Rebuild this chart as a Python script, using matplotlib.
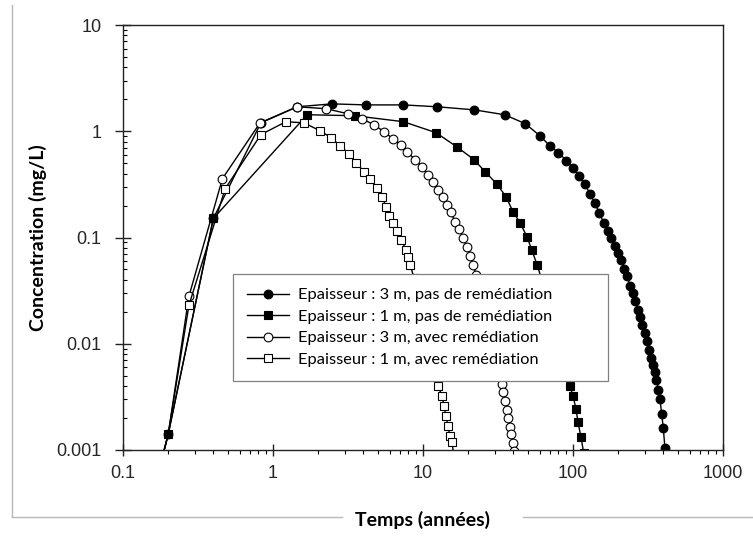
import numpy as np
import matplotlib
matplotlib.use('Agg')
import matplotlib.pyplot as plt
from matplotlib.lines import Line2D

# 3 m, pas de remediation (filled circles)
t_c3 = [0.1, 0.2, 0.4, 0.83, 1.45, 2.47, 4.2, 7.4, 12.4, 22, 35, 48, 60, 70, 80, 90,
        100, 110, 120, 130, 140, 150, 160, 170, 180, 190, 200, 210, 220, 230, 240,
        250, 260, 270, 280, 290, 300, 310, 320, 330, 340, 350, 360, 370, 380, 390,
        400, 410, 420]
c_c3 = [3e-5, 0.0014, 0.151, 1.2, 1.70, 1.81, 1.77, 1.77, 1.70, 1.59, 1.43, 1.18, 0.91,
        0.73, 0.63, 0.53, 0.452, 0.38, 0.316, 0.257, 0.209, 0.170, 0.138, 0.115, 0.098,
        0.083, 0.072, 0.062, 0.051, 0.043, 0.035, 0.030, 0.025, 0.021, 0.018, 0.015,
        0.0126, 0.0105, 0.0087, 0.0074, 0.0063, 0.0054, 0.0046, 0.0037, 0.0030,
        0.0022, 0.0016, 0.00105, 0.00063]

# 1 m, pas de remediation (filled squares)
t_c1 = [0.1, 0.2, 0.4, 1.69, 3.5, 7.4, 12.2, 16.9, 21.9, 25.9, 31, 35.7, 39.8, 44.3,
        49.3, 53.3, 57.5, 62, 67, 72, 77, 82, 87, 91, 95.5, 100, 104.7, 108, 113, 118]
c_c1 = [3e-5, 0.0014, 0.151, 1.43, 1.40, 1.23, 0.97, 0.71, 0.54, 0.417, 0.32, 0.243,
        0.175, 0.138, 0.102, 0.0755, 0.0557, 0.040, 0.028, 0.020, 0.014, 0.010,
        0.0074, 0.0054, 0.00398, 0.00324, 0.00243, 0.00183, 0.00132, 0.00093]

# 3 m, avec remediation (open circles)
t_r3 = [0.1, 0.2, 0.275, 0.46, 0.82, 1.45, 2.26, 3.16, 3.92, 4.71, 5.5, 6.31, 7.13,
        7.82, 8.85, 9.85, 10.8, 11.7, 12.6, 13.6, 14.5, 15.4, 16.3, 17.4, 18.5, 19.6,
        20.6, 21.6, 22.6, 23.6, 24.6, 25.6, 26.6, 27.6, 28.6, 29.6, 30.6, 31.6, 32.6,
        33.4, 34.3, 35.2, 36.1, 37.0, 37.9, 38.8, 39.7, 40.6]
c_r3 = [3e-5, 0.0014, 0.0279, 0.358, 1.20, 1.70, 1.63, 1.46, 1.31, 1.15, 0.99, 0.85,
        0.746, 0.643, 0.54, 0.465, 0.391, 0.336, 0.282, 0.243, 0.204, 0.172, 0.141,
        0.119, 0.100, 0.0822, 0.0676, 0.055, 0.0447, 0.0363, 0.0295, 0.024, 0.0195,
        0.0158, 0.0129, 0.0105, 0.0085, 0.0068, 0.0054, 0.0042, 0.0035, 0.0029,
        0.0024, 0.0020, 0.00166, 0.00141, 0.00117, 0.00098]

# 1 m, avec remediation (open squares)
t_r1 = [0.1, 0.2, 0.275, 0.48, 0.83, 1.22, 1.61, 2.06, 2.44, 2.8, 3.21, 3.58, 4.04,
        4.43, 4.94, 5.33, 5.67, 5.93, 6.31, 6.71, 7.13, 7.7, 7.9, 8.2, 8.7, 9.2, 9.7,
        10.2, 10.7, 11.2, 11.7, 12.2, 12.6, 13.4, 13.8, 14.2, 14.7, 15.1, 15.6, 16.1]
c_r1 = [3e-5, 0.0014, 0.023, 0.288, 0.93, 1.23, 1.20, 1.01, 0.87, 0.73, 0.615, 0.506,
        0.417, 0.358, 0.294, 0.243, 0.195, 0.161, 0.138, 0.116, 0.0957, 0.0771, 0.066,
        0.0557, 0.042, 0.031, 0.023, 0.017, 0.0126, 0.0093, 0.0069, 0.0051, 0.00398,
        0.00324, 0.00259, 0.00208, 0.00168, 0.00135, 0.0012, 0.00085]

labels = ['Epaisseur : 3 m, pas de remédiation',
          'Epaisseur : 1 m, pas de remédiation',
          'Epaisseur : 3 m, avec remédiation',
          'Epaisseur : 1 m, avec remédiation']
xticks = [0.1, 1, 10, 100, 1000]
xticklabels = ['0.1', '1', '10', '100', '1000']
yticks = [0.001, 0.01, 0.1, 1, 10]
yticklabels = ['0.001', '0.01', '0.1', '1', '10']

fig = plt.figure(figsize=(7.53, 5.36), dpi=100)
ax = fig.add_axes([123/753, 1-450/536, 600/753, 425/536])

lw = 1.0
ax.plot(t_c3, c_c3, '-o', color='black', lw=lw, ms=6.3, mfc='black', mec='black',
        mew=0.8, label=labels[0], markevery=slice(1, None))
ax.plot(t_c1, c_c1, '-s', color='black', lw=lw, ms=5.8, mfc='black', mec='black',
        mew=0.8, label=labels[1], markevery=slice(1, None))
ax.plot(t_r3, c_r3, '-o', color='black', lw=lw, ms=6.3, mfc='white', mec='black',
        mew=0.8, label=labels[2], markevery=slice(2, None))
ax.plot(t_r1, c_r1, '-s', color='black', lw=lw, ms=5.8, mfc='white', mec='black',
        mew=0.8, label=labels[3], markevery=slice(2, None))

ax.set_xscale('log')
ax.set_yscale('log')
ax.set_xlim(0.1, 1000)
ax.set_ylim(0.001, 10)
ax.set_xticks(xticks, labels=xticklabels)
ax.set_yticks(yticks, labels=yticklabels)

for s in ax.spines.values():
    s.set_linewidth(1.0)
    s.set_color('#222222')

ax.tick_params(axis='both', which='major', length=6, width=1, color='#222222',
               labelsize=13, labelcolor='#262626')
ax.tick_params(axis='x', which='major', direction='inout', length=9, pad=6)
ax.tick_params(axis='y', which='major', direction='inout', length=11, pad=10)
ax.tick_params(axis='x', which='minor', direction='out', length=3, width=0.8)
ax.tick_params(axis='y', which='minor', direction='in', length=3, width=0.8)
for lab in ax.get_xticklabels() + ax.get_yticklabels():
    lab.set_fontfamily('Liberation Sans')

ax.set_xlabel('Temps (années)', fontfamily='Lato', fontweight='bold', fontsize=14,
              bbox=dict(facecolor='white', edgecolor='none', pad=2))
ax.set_ylabel('Concentration (mg/L)', fontfamily='Lato', fontweight='bold', fontsize=14)
ax.xaxis.set_label_coords(0.5, -0.143)
ax.yaxis.set_label_coords(-0.127, 0.5)

leg = ax.legend(loc='upper left', bbox_to_anchor=(0.183, 0.162, 0.625, 0.252),
                mode='expand', prop={'family': 'Lato', 'size': 11.8},
                frameon=True, fancybox=False, edgecolor='#808080', framealpha=1,
                handlelength=2.6, handletextpad=0.55, labelspacing=0.43,
                borderpad=0.85, borderaxespad=0)
leg.get_frame().set_linewidth(0.9)

# light grey frame around the picture
fig.add_artist(Line2D([12/753, 12/753], [1-5/536, 1-517/536], color='#b8b8b8', lw=1))
fig.add_artist(Line2D([12/753, 342/753], [1-517/536, 1-517/536], color='#b8b8b8', lw=1))
fig.add_artist(Line2D([523/753, 1.0], [1-517/536, 1-517/536], color='#b8b8b8', lw=1))

fig.savefig('out.png', dpi=100)
